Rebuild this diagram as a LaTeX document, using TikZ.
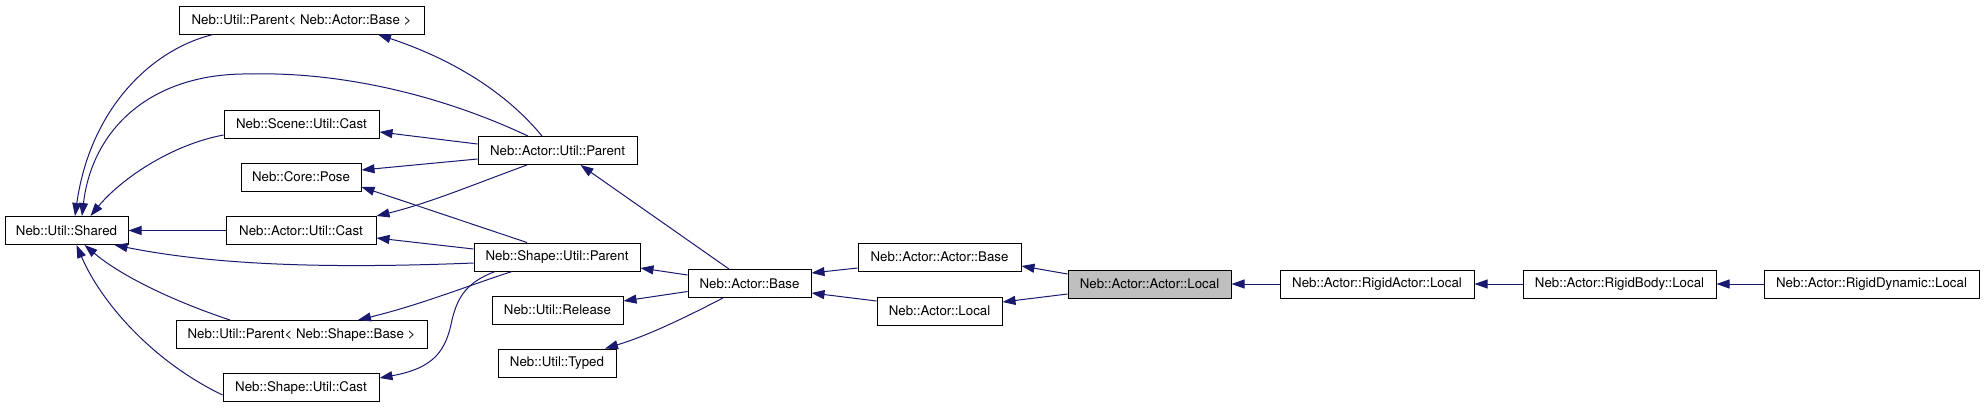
\documentclass[tikz,border=0pt]{standalone}
\usepackage{fontspec}
\setmainfont{TeX Gyre Heros}
\usetikzlibrary{arrows.meta}
\definecolor{edgeblue}{HTML}{191970}
\definecolor{hlgray}{HTML}{BFBFBF}
\begin{document}
\begin{tikzpicture}[x=1pt,y=-1pt,
  cls/.style={draw=black, line width=1pt, fill=white, inner sep=0pt, minimum height=28pt, font=\fontsize{13.3}{16}\selectfont},
  hl/.style={cls, fill=hlgray},
  edge/.style={draw=edgeblue, line width=1pt, -{Triangle[length=13pt,width=9pt]}},
]
\fill[white] (0,0) rectangle (1984,408);
\useasboundingbox (0,0) rectangle (1984,408);

\node[cls, minimum width=123pt] (Shared) at (66.5,230.5) {Neb::Util::Shared};
\node[cls, minimum width=245pt] (PAB) at (301.5,20) {Neb::Util::Parent< Neb::Actor::Base >};
\node[cls, minimum width=155pt] (SceneCast) at (301.5,124) {Neb::Scene::Util::Cast};
\node[cls, minimum width=120pt] (CorePose) at (301,177) {Neb::Core::Pose};
\node[cls, minimum width=150pt] (ActorCast) at (301,230.5) {Neb::Actor::Util::Cast};
\node[cls, minimum width=251pt] (PSB) at (301.5,334.5) {Neb::Util::Parent< Neb::Shape::Base >};
\node[cls, minimum width=156pt] (ShapeCast) at (301,387.5) {Neb::Shape::Util::Cast};
\node[cls, minimum width=159pt] (AUP) at (557.5,150.5) {Neb::Actor::Util::Parent};
\node[cls, minimum width=166pt] (SUP) at (557,257) {Neb::Shape::Util::Parent};
\node[cls, minimum width=131pt] (Release) at (557.5,310) {Neb::Util::Release};
\node[cls, minimum width=118pt] (Typed) at (557,363) {Neb::Util::Typed};
\node[cls, minimum width=123pt] (ActorBase) at (749.5,283.5) {Neb::Actor::Base};
\node[cls, minimum width=163pt] (AAB) at (939.5,257) {Neb::Actor::Actor::Base};
\node[cls, minimum width=125pt] (ActorLocal) at (939.5,311) {Neb::Actor::Local};
\node[hl, minimum width=163pt] (AAL) at (1149.5,284) {Neb::Actor::Actor::Local};
\node[cls, minimum width=194pt] (RAL) at (1377,284) {Neb::Actor::RigidActor::Local};
\node[cls, minimum width=193pt] (RBL) at (1619.5,284) {Neb::Actor::RigidBody::Local};
\node[cls, minimum width=215pt] (RDL) at (1871.5,284) {Neb::Actor::RigidDynamic::Local};

% into Shared
\draw[edge] (ActorCast.west) -- (Shared.east);
\draw[edge] ([xshift=-88.5pt]PAB.south) .. controls (150,50) and (90,110) .. ([xshift=8.5pt]Shared.north);
\draw[edge] ([xshift=-29.5pt]AUP.north) .. controls (430,90) and (330,72) .. (252,74) .. controls (150,72) and (92,130) .. ([xshift=15.5pt]Shared.north);
\draw[edge] ([yshift=-11pt]SceneCast.west) .. controls (170,145) and (120,180) .. ([xshift=24pt]Shared.north);
\draw[edge] ([yshift=-6pt]SUP.west) .. controls (300,270) and (200,262) .. ([xshift=48pt]Shared.south);
\draw[edge] ([xshift=-71.5pt]PSB.north) .. controls (170,300) and (120,275) .. ([xshift=18pt]Shared.south);
\draw[edge] ([yshift=-7.5pt]ShapeCast.west) .. controls (150,360) and (100,300) .. ([xshift=10pt]Shared.south);

% from Actor::Util::Parent
\draw[edge] ([xshift=-15.5pt]AUP.north) .. controls (500,85) and (440,55) .. ([xshift=76.5pt]PAB.south);
\draw[edge] ([yshift=6.5pt]AUP.west) -- ([yshift=-8pt]SceneCast.east);
\draw[edge] ([yshift=-8.5pt]AUP.west) -- ([yshift=7pt]CorePose.east);
\draw[edge] ([xshift=-30.5pt]AUP.south) .. controls (480,182) and (430,203) .. (ActorCast.north east);

% from Shape::Util::Parent
\draw[edge] ([xshift=-30pt]SUP.north) -- ([yshift=-10pt]CorePose.east);
\draw[edge] ([yshift=8pt]SUP.west) -- ([yshift=-7.5pt]ActorCast.east);
\draw[edge] ([xshift=-45pt]SUP.south) .. controls (470,285) and (420,305) .. ([xshift=56.5pt]PSB.north);
\draw[edge] ([xshift=-62pt]SUP.south) .. controls (468,282) and (458,295) .. (452,320) .. controls (446,350) and (435,368) .. ([yshift=9.5pt]ShapeCast.east);

% from Actor::Base
\draw[edge] ([xshift=-20.5pt]ActorBase.north) -- ([xshift=23pt]AUP.south);
\draw[edge] ([yshift=8.5pt]ActorBase.west) -- ([yshift=-11pt]SUP.east);
\draw[edge] ([yshift=-8pt]ActorBase.west) -- ([yshift=9pt]Release.east);
\draw[edge] ([xshift=-26.5pt]ActorBase.south) .. controls (690,315) and (650,335) .. ([xshift=48pt]Typed.north);

% right part
\draw[edge] ([yshift=-11pt]AAB.west) -- ([yshift=10.5pt]ActorBase.east);
\draw[edge] ([yshift=10pt]ActorLocal.west) -- ([yshift=-9.5pt]ActorBase.east);
\draw[edge] ([yshift=10pt]AAL.west) -- ([yshift=-9pt]AAB.east);
\draw[edge] ([yshift=-10pt]AAL.west) -- ([yshift=9pt]ActorLocal.east);
\draw[edge] (RAL.west) -- (AAL.east);
\draw[edge] (RBL.west) -- (RAL.east);
\draw[edge] (RDL.west) -- (RBL.east);
\end{tikzpicture}
\end{document}
